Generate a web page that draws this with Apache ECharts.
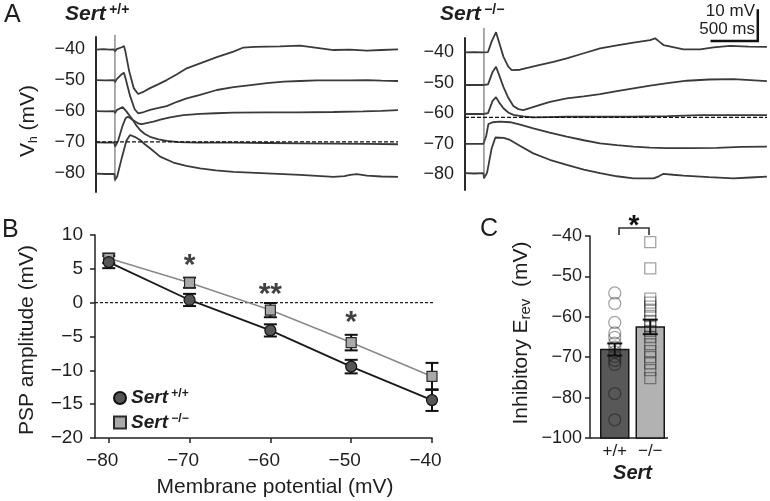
<!DOCTYPE html>
<html><head><meta charset="utf-8">
<script src="https://cdn.jsdelivr.net/npm/echarts@6/dist/echarts.min.js"></script>
<style>html,body{margin:0;padding:0;background:#fff}#c{width:770px;height:501px}</style>
</head><body><div id="c"></div>
<script>
// ---------- Panel A: membrane voltage traces, [time (ms), Vm (mV)] ----------
const wtTrace40 = [[0,-40.1],[80,-39.9],[150,-40.1],[200,-40.0],[206,-40.7],[225,-39.9],[280,-39.3],[304,-38.9],[318,-40.5],[360,-47.0],[410,-52.5],[457,-54.4],[520,-53.6],[587,-52.5],[680,-51.2],[768,-49.9],[880,-48.0],[985,-46.1],[1130,-44.5],[1312,-42.5],[1493,-40.7],[1601,-39.4],[1720,-39.2],[1855,-39.1],[2000,-39.0],[2217,-38.8],[2400,-39.5],[2580,-40.2],[2760,-40.1],[2942,-40.4],[3100,-40.2],[3280,-40.0]];
const wtTrace50 = [[0,-49.9],[100,-50.0],[200,-49.9],[206,-50.6],[225,-49.6],[280,-48.0],[304,-47.5],[322,-49.5],[370,-55.0],[420,-59.3],[457,-60.6],[520,-60.2],[587,-59.5],[680,-58.9],[768,-58.3],[880,-56.9],[985,-55.8],[1130,-54.7],[1312,-53.1],[1493,-52.2],[1680,-51.5],[1855,-50.9],[2040,-50.4],[2217,-50.2],[2400,-50.0],[2580,-50.0],[2760,-50.0],[2942,-49.9],[3100,-50.1],[3280,-50.2]];
const wtTrace60 = [[0,-59.9],[100,-60.0],[200,-59.9],[206,-60.6],[225,-59.6],[290,-58.6],[304,-58.3],[330,-60.0],[400,-62.8],[460,-63.9],[497,-64.1],[560,-63.7],[623,-63.3],[710,-62.6],[804,-61.9],[950,-61.2],[1130,-60.8],[1300,-60.6],[1493,-60.4],[1855,-60.3],[2200,-60.3],[2580,-60.2],[2900,-60.0],[3100,-59.8],[3280,-59.6]];
const wtTrace70 = [[0,-70.0],[100,-70.1],[200,-70.0],[206,-71.4],[240,-69.5],[290,-64.5],[320,-62.3],[344,-61.7],[375,-62.2],[405,-63.0],[440,-64.6],[478,-66.0],[530,-67.3],[587,-68.2],[680,-69.0],[768,-69.5],[900,-69.9],[1100,-70.1],[1500,-70.1],[1855,-70.2],[2200,-70.3],[2600,-70.4],[2950,-70.5],[3280,-70.6]];
const wtTrace80 = [[0,-80.1],[100,-80.2],[200,-80.2],[206,-82.1],[230,-81.0],[280,-75.0],[330,-69.5],[370,-67.6],[420,-68.2],[478,-69.2],[530,-70.6],[587,-71.9],[696,-74.6],[841,-76.5],[980,-77.6],[1130,-78.4],[1300,-79.0],[1493,-79.5],[1855,-80.0],[2217,-80.5],[2580,-81.1],[2700,-80.9],[2760,-80.5],[2833,-80.2],[2942,-80.7],[3100,-81.0],[3280,-81.1]];
const koTrace40 = [[0,-40.1],[100,-40.0],[200,-40.1],[206,-40.3],[250,-40.0],[290,-36.5],[337,-33.5],[370,-36.8],[417,-41.5],[470,-44.8],[508,-45.9],[598,-45.8],[700,-45.0],[815,-44.2],[960,-43.2],[1105,-42.1],[1290,-40.4],[1467,-38.8],[1650,-37.8],[1830,-36.9],[2011,-36.1],[2065,-35.5],[2110,-36.6],[2156,-37.7],[2260,-38.4],[2373,-39.1],[2554,-39.1],[2700,-38.5],[2880,-38.0],[3080,-38.2],[3279,-38.3]];
const koTrace50 = [[0,-50.8],[100,-50.8],[200,-50.8],[206,-51.2],[250,-50.6],[300,-46.5],[337,-44.8],[370,-47.5],[417,-51.4],[470,-55.0],[525,-57.7],[580,-58.7],[634,-59.0],[720,-58.2],[824,-57.2],[924,-56.3],[1105,-55.2],[1290,-54.5],[1467,-53.8],[1650,-52.8],[1830,-51.9],[2011,-51.0],[2200,-50.2],[2410,-49.4],[2650,-49.0],[2916,-48.9],[3100,-49.2],[3279,-49.5]];
const koTrace60 = [[0,-60.3],[100,-60.3],[200,-60.3],[206,-60.8],[250,-60.0],[300,-56.0],[337,-54.8],[370,-56.5],[417,-58.4],[470,-59.8],[525,-60.6],[630,-61.1],[742,-61.4],[900,-61.3],[1105,-61.2],[1400,-61.2],[1800,-61.2],[2200,-61.0],[2554,-60.7],[2900,-60.7],[3279,-60.7]];
const koTrace70 = [[0,-70.1],[100,-70.1],[200,-70.1],[206,-70.4],[230,-67.5],[254,-63.6],[300,-63.0],[380,-62.8],[489,-63.0],[600,-63.8],[742,-65.0],[920,-66.4],[1105,-67.7],[1290,-68.9],[1467,-69.9],[1650,-70.5],[1829,-71.0],[2011,-71.3],[2192,-71.5],[2450,-71.5],[2735,-71.4],[3000,-71.1],[3279,-71.0]];
const koTrace80 = [[0,-79.7],[100,-79.8],[200,-79.7],[206,-81.4],[240,-79.5],[290,-71.5],[330,-68.0],[351,-67.5],[420,-68.1],[489,-68.8],[600,-70.8],[742,-73.2],[920,-75.3],[1105,-77.0],[1290,-78.5],[1467,-79.7],[1650,-80.7],[1829,-81.4],[2047,-81.4],[2100,-80.8],[2156,-79.9],[2260,-80.2],[2373,-80.5],[2650,-81.0],[2916,-81.4],[3100,-81.1],[3279,-80.8]];
const wtStimArtifact = [[206,-35.3],[206,-82.6]];
const koStimArtifact = [[206,-32.1],[206,-81.3]];
const traceDuration = 3280;          // ms
const wtDashedLevel = -69.8;         // mV
const koDashedLevel = -61.4;         // mV
const holdingTicks = [-80,-70,-60,-50,-40];
const scaleBarCorner = [3180,-36.4]; // ms, mV
const scaleBarMs = 500;
const scaleBarMv = 10;

// ---------- Panel B: PSP amplitude vs membrane potential ----------
const membranePotential = [-80,-70,-60,-50,-40];
const pspWT    = [6.0, 0.4, -4.1, -9.45, -14.4];
const pspWTsem = [0.9, 0.9, 0.9, 1.0, 1.6];
const pspKO    = [6.55, 2.95, -1.1, -5.9, -10.9];
const pspKOsem = [0.7, 0.75, 1.05, 1.15, 2.0];
const signifX    = [-70, -60, -50];
const signifY    = [5.5, 1.2, -2.9];
const signifText = ['*', '**', '*'];
const zeroLineExtent = [-81.7, -38.1];

// ---------- Panel C: inhibitory reversal potential ----------
const genotypes = ['+/+', '\u2212/\u2212'];
const erevMean = [-68.1, -62.5];
const erevSem  = [1.5, 1.8];
const erevWT = [-54.1,-56.7,-61.4,-64.0,-65.1,-66.5,-67.5,-68.7,-69.8,-70.8,-71.8,-79.0,-85.5];
const erevKO = [-41.5,-48.0,-55.5,-56.5,-57.5,-58.5,-59.8,-61.0,-62.3,-63.5,-65.0,-66.8,-68.5,-70.0,-71.5,-73.2,-75.2];
const erevTickValues = [-90,-80,-70,-60,-50,-40];
const erevTickLabels = ['\u2212100','\u221280','\u221270','\u221260','\u221250','\u221240'];

// ---------- styling ----------
const FONT = "'Liberation Sans', Arial, Helvetica, sans-serif";
const INK = '#1e1e1e';
const minus = v => (v < 0 ? '\u2212' : '') + Math.abs(v);
const wtName = 'Sert +/+';
const koName = 'Sert \u2212/\u2212';
const barColors = ['#585858', '#b2b2b2'];
const cAxisMin = -90;

const chart = echarts.init(document.getElementById('c'), null, {renderer: 'canvas', width: 770, height: 501});

function trace(data, gi) {
  return {type: 'line', xAxisIndex: gi, yAxisIndex: gi, data, symbol: 'none', clip: false, silent: true,
    lineStyle: {color: '#3a3a3a', width: 1.8}, z: 3};
}
function errorBars(xs, ys, errs, gi, capW, z) {
  return {type: 'custom', xAxisIndex: gi, yAxisIndex: gi, z, silent: true, clip: false,
    data: xs.map((x, i) => [x, ys[i] - errs[i], ys[i] + errs[i]]),
    encode: {x: 0, y: [1, 2]},
    renderItem(params, api) {
      const x = api.value(0);
      const lo = api.coord([x, api.value(1)]);
      const hi = api.coord([x, api.value(2)]);
      const h = capW / 2;
      const st = {stroke: '#111', lineWidth: 2};
      return {type: 'group', children: [
        {type: 'line', shape: {x1: lo[0], y1: lo[1], x2: hi[0], y2: hi[1]}, style: st},
        {type: 'line', shape: {x1: lo[0] - h, y1: lo[1], x2: lo[0] + h, y2: lo[1]}, style: st},
        {type: 'line', shape: {x1: hi[0] - h, y1: hi[1], x2: hi[0] + h, y2: hi[1]}, style: st}
      ]};
    }};
}
const traceYAxis = (gi, min, max) => ({
  type: 'value', gridIndex: gi, min, max,
  axisLine: {show: true, onZero: false, lineStyle: {color: '#2a2a2a', width: 2}},
  axisTick: {show: false}, splitLine: {show: false},
  axisLabel: {customValues: holdingTicks, formatter: minus, fontSize: 18, color: INK, fontFamily: FONT, margin: 11}
});
const traceXAxis = gi => ({type: 'value', gridIndex: gi, min: 0, max: traceDuration, show: false});

const yA0 = traceYAxis(0, -86, -36);
yA0.name = '{a|V}{s|h}{a| (mV)}';
yA0.nameLocation = 'middle';
yA0.nameGap = 56;
yA0.nameTextStyle = {padding: [0, 13, 0, 0], rich: {
  a: {fontSize: 21, fontFamily: FONT, color: INK, lineHeight: 24},
  s: {fontSize: 12, fontFamily: FONT, color: INK, lineHeight: 12, verticalAlign: 'bottom'}}};

const option = {
  animation: false,
  backgroundColor: '#fff',
  grid: [
    {left: 96, top: 37, width: 302, height: 155},
    {left: 465, top: 38, width: 302, height: 152},
    {left: 95, top: 235, width: 337, height: 203},
    {left: 597, top: 236, width: 71, height: 202}
  ],
  xAxis: [
    traceXAxis(0), traceXAxis(1),
    {type: 'value', gridIndex: 2, min: -81.7, max: -40,
     axisLine: {onZero: false, lineStyle: {color: '#222', width: 1.5}},
     axisTick: {customValues: membranePotential, length: 5, lineStyle: {color: '#222', width: 1.5}},
     axisLabel: {customValues: membranePotential, formatter: minus, fontSize: 19, color: INK, fontFamily: FONT, margin: 13,
       padding: [0, 13, 0, 0]},
     splitLine: {show: false},
     name: 'Membrane potential (mV)', nameLocation: 'middle', nameGap: 39,
     nameTextStyle: {fontSize: 21, color: INK, fontFamily: FONT, padding: [0, 0, 0, 23]}},
    {type: 'category', gridIndex: 3, data: genotypes,
     axisLine: {show: false}, axisTick: {show: false},
     axisLabel: {fontSize: 17, color: INK, fontFamily: FONT, margin: 5},
     name: 'Sert', nameLocation: 'middle', nameGap: 25,
     nameTextStyle: {fontSize: 20, fontWeight: 'bold', fontStyle: 'italic', color: INK, fontFamily: FONT}}
  ],
  yAxis: [
    yA0,
    traceYAxis(1, -85.2, -35.4),
    {type: 'value', gridIndex: 2, min: -20, max: 10, interval: 5,
     axisLine: {show: true, onZero: false, lineStyle: {color: '#222', width: 1.5}},
     axisTick: {show: true, length: 5, lineStyle: {color: '#222', width: 1.5}},
     axisLabel: {formatter: minus, fontSize: 19, color: INK, fontFamily: FONT, margin: 12},
     splitLine: {show: false},
     name: 'PSP amplitude (mV)', nameLocation: 'middle', nameGap: 57,
     nameTextStyle: {fontSize: 21, color: INK, fontFamily: FONT, padding: [0, 7, 0, 0]}},
    {type: 'value', gridIndex: 3, min: cAxisMin, max: -40, interval: 10, offset: 7,
     axisLine: {show: true, onZero: false, lineStyle: {color: '#222', width: 1.5}},
     axisTick: {show: true, length: 5, lineStyle: {color: '#222', width: 1.5}},
     axisLabel: {formatter: v => erevTickLabels[erevTickValues.indexOf(v)], fontSize: 18, color: INK, fontFamily: FONT, margin: 8},
     splitLine: {show: false},
     name: '{a|Inhibitory E}{s|rev}{a|  (mV)}', nameLocation: 'middle', nameGap: 57,
     nameTextStyle: {padding: [0, 0, 0, 8], rich: {
       a: {fontSize: 21, fontFamily: FONT, color: INK, lineHeight: 24},
       s: {fontSize: 15, fontFamily: FONT, color: INK, lineHeight: 15, verticalAlign: 'bottom'}}}}
  ],
  legend: {
    orient: 'vertical', left: 108, top: 383, itemWidth: 12, itemHeight: 12, itemGap: 5,
    data: [{name: wtName, icon: 'circle'}, {name: koName, icon: 'rect'}],
    formatter: n => '{b|Sert} {s|' + n.split(' ')[1] + '}',
    textStyle: {rich: {
      b: {fontSize: 19, fontWeight: 'bold', fontStyle: 'italic', fontFamily: FONT, color: INK, lineHeight: 20},
      s: {fontSize: 12, fontWeight: 'bold', fontFamily: FONT, color: INK, lineHeight: 12, verticalAlign: 'top'}}}
  },
  series: [
    trace(wtTrace40, 0), trace(wtTrace50, 0), trace(wtTrace60, 0), trace(wtTrace70, 0), trace(wtTrace80, 0),
    {type: 'line', xAxisIndex: 0, yAxisIndex: 0, data: wtStimArtifact, symbol: 'none', clip: false, silent: true,
     lineStyle: {color: '#555', width: 1}, z: 4},
    {type: 'line', xAxisIndex: 0, yAxisIndex: 0, data: [[0, wtDashedLevel], [traceDuration, wtDashedLevel]], symbol: 'none', silent: true,
     lineStyle: {color: '#111', width: 1.3, type: [4, 2]}, z: 5},
    trace(koTrace40, 1), trace(koTrace50, 1), trace(koTrace60, 1), trace(koTrace70, 1), trace(koTrace80, 1),
    {type: 'line', xAxisIndex: 1, yAxisIndex: 1, data: koStimArtifact, symbol: 'none', clip: false, silent: true,
     lineStyle: {color: '#555', width: 1}, z: 4},
    {type: 'line', xAxisIndex: 1, yAxisIndex: 1, data: [[0, koDashedLevel], [traceDuration, koDashedLevel]], symbol: 'none', silent: true,
     lineStyle: {color: '#111', width: 1.3, type: [4, 2]}, z: 5},
    {type: 'line', xAxisIndex: 1, yAxisIndex: 1, symbol: 'none', clip: false, silent: true,
     data: [[scaleBarCorner[0] - scaleBarMs, scaleBarCorner[1]], scaleBarCorner, [scaleBarCorner[0], scaleBarCorner[1] + scaleBarMv]],
     lineStyle: {color: '#111', width: 2.5, cap: 'square', join: 'miter'}, z: 5},
    // Panel B
    {type: 'line', xAxisIndex: 2, yAxisIndex: 2, symbol: 'none', clip: false, silent: true,
     data: zeroLineExtent.map(x => [x, 0]), lineStyle: {color: '#222', width: 1.3, type: [3, 2]}, z: 1},
    errorBars(membranePotential, pspKO, pspKOsem, 2, 13, 2),
    errorBars(membranePotential, pspWT, pspWTsem, 2, 13, 2),
    {name: koName, type: 'line', xAxisIndex: 2, yAxisIndex: 2, data: membranePotential.map((x, i) => [x, pspKO[i]]),
     symbol: 'rect', symbolSize: 10, showSymbol: true,
     itemStyle: {color: '#a9a9a9', borderColor: '#2a2a2a', borderWidth: 1.2},
     lineStyle: {color: '#8a8a8a', width: 1.6}, z: 3},
    {name: wtName, type: 'line', xAxisIndex: 2, yAxisIndex: 2, data: membranePotential.map((x, i) => [x, pspWT[i]]),
     symbol: 'circle', symbolSize: 11, showSymbol: true,
     itemStyle: {color: '#555', borderColor: '#111', borderWidth: 1.2},
     lineStyle: {color: '#1a1a1a', width: 1.8}, z: 4},
    {type: 'scatter', xAxisIndex: 2, yAxisIndex: 2, symbolSize: 1, silent: true,
     data: signifX.map((x, i) => [x, signifY[i]]), itemStyle: {color: 'rgba(0,0,0,0)'},
     label: {show: true, position: 'inside', formatter: p => signifText[p.dataIndex], fontSize: 30, fontWeight: 'bold', color: '#111', fontFamily: FONT}, z: 6},
    // Panel C
    {type: 'custom', xAxisIndex: 3, yAxisIndex: 3, silent: true, z: 2,
     data: erevMean.map((v, i) => [i, v]),
     renderItem(params, api) {
       const i = api.value(0);
       const top = api.coord([i, api.value(1)]);
       const base = api.coord([i, cAxisMin]);
       const w = 28;
       return {type: 'rect', shape: {x: top[0] - w / 2, y: top[1], width: w, height: base[1] - top[1]},
         style: {fill: barColors[i], stroke: '#161616', lineWidth: 1.5}};
     }},
    {type: 'scatter', xAxisIndex: 3, yAxisIndex: 3, silent: true, z: 3, symbol: 'circle', symbolSize: 12,
     data: erevWT.map(v => [0, v]),
     itemStyle: {color: 'rgba(0,0,0,0)', borderColor: 'rgba(0,0,0,0.45)', borderWidth: 1.3}},
    {type: 'scatter', xAxisIndex: 3, yAxisIndex: 3, silent: true, z: 3, symbol: 'rect', symbolSize: 11,
     data: erevKO.map(v => [1, v]),
     itemStyle: {color: 'rgba(0,0,0,0)', borderColor: 'rgba(0,0,0,0.45)', borderWidth: 1.3}},
    errorBars([0, 1], erevMean, erevSem, 3, 15, 4)
  ],
  graphic: [
    {type: 'text', x: 4, y: 3, style: {text: 'A', font: '25px ' + FONT, fill: INK}},
    {type: 'text', x: 2, y: 218, style: {text: 'B', font: '25px ' + FONT, fill: INK}},
    {type: 'text', x: 480, y: 217, style: {text: 'C', font: '25px ' + FONT, fill: INK}},
    {type: 'text', x: 65, y: 14, style: {text: '{b|Sert} {s|+/+}', verticalAlign: 'middle', rich: {
      b: {fontSize: 21, fontWeight: 'bold', fontStyle: 'italic', fontFamily: FONT, fill: INK, lineHeight: 22},
      s: {fontSize: 14, fontWeight: 'bold', fontFamily: FONT, fill: INK, lineHeight: 14, verticalAlign: 'top'}}}},
    {type: 'text', x: 440, y: 14, style: {text: '{b|Sert} {s|\u2212/\u2212}', verticalAlign: 'middle', rich: {
      b: {fontSize: 21, fontWeight: 'bold', fontStyle: 'italic', fontFamily: FONT, fill: INK, lineHeight: 22},
      s: {fontSize: 14, fontWeight: 'bold', fontFamily: FONT, fill: INK, lineHeight: 14, verticalAlign: 'top'}}}},
    {type: 'text', x: 755, y: 11, style: {text: '10 mV', font: '17px ' + FONT, fill: INK, align: 'right', verticalAlign: 'middle'}},
    {type: 'text', x: 755, y: 29, style: {text: '500 ms', font: '17px ' + FONT, fill: INK, align: 'right', verticalAlign: 'middle'}},
    {type: 'polyline', shape: {points: [[619, 235], [619, 228], [649, 228], [649, 235]]}, style: {stroke: '#333', lineWidth: 1.6, fill: null}},
    {type: 'text', x: 634, y: 226, style: {text: '*', font: 'bold 28px ' + FONT, fill: '#111', align: 'center', verticalAlign: 'middle'}},
    {type: 'line', shape: {x1: 590, y1: 438, x2: 668, y2: 438}, style: {stroke: '#222', lineWidth: 1.5}}
  ]
};
chart.setOption(option);
</script>
</body></html>
